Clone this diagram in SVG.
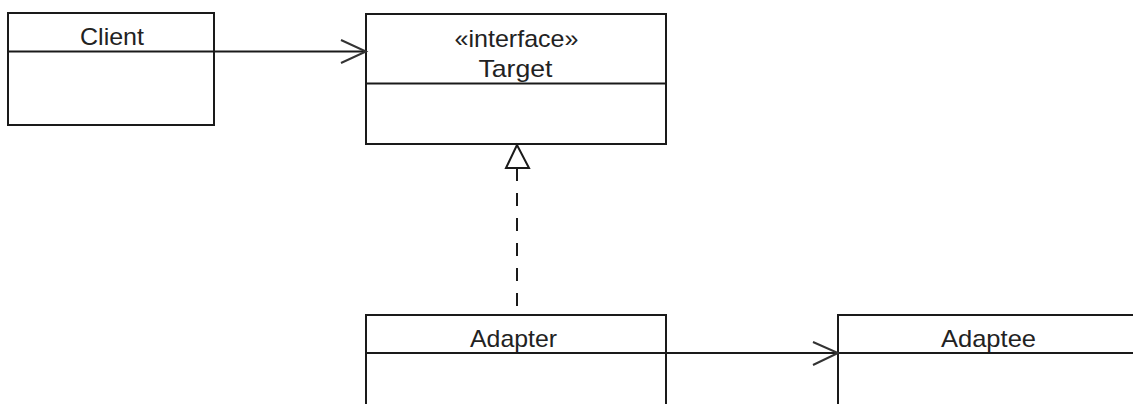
<svg xmlns="http://www.w3.org/2000/svg" width="1133" height="404" viewBox="0 0 1133 404">
<style>
.box{fill:#fff;stroke:#1a1a1a;stroke-width:2}
.div{stroke:#1a1a1a;stroke-width:2}
.lbl{font-family:"Liberation Sans",Arial,sans-serif;font-size:24px;fill:#222;text-anchor:middle}
.con{stroke:#1a1a1a;stroke-width:2;fill:none}
.open{stroke:#333;stroke-width:2;fill:none}
</style>
<rect width="1133" height="404" fill="#fff"/>
<g id="client">
<rect class="box" x="8" y="13" width="206" height="112"/>
<line class="div" x1="8" y1="51.5" x2="214" y2="51.5"/>
<text class="lbl" x="112" y="44.5" textLength="64" lengthAdjust="spacingAndGlyphs">Client</text>
</g>
<g id="target">
<rect class="box" x="366" y="14" width="300" height="130"/>
<line class="div" x1="366" y1="83.5" x2="666" y2="83.5"/>
<text class="lbl" x="516.5" y="47" textLength="124" lengthAdjust="spacingAndGlyphs">«interface»</text>
<text class="lbl" x="515.5" y="77" textLength="74" lengthAdjust="spacingAndGlyphs">Target</text>
</g>
<g id="adapter">
<rect class="box" x="366" y="315" width="300" height="100"/>
<line class="div" x1="366" y1="353" x2="666" y2="353"/>
<text class="lbl" x="513.5" y="346.5" textLength="87" lengthAdjust="spacingAndGlyphs">Adapter</text>
</g>
<g id="adaptee">
<rect class="box" x="838" y="315" width="310" height="100"/>
<line class="div" x1="838" y1="353" x2="1140" y2="353"/>
<text class="lbl" x="988.5" y="346.5" textLength="95" lengthAdjust="spacingAndGlyphs">Adaptee</text>
</g>
<g id="connectors">
<line class="con" x1="214" y1="51.5" x2="366" y2="51.5"/>
<polyline class="open" points="341,40 366,51.5 341,63"/>
<line class="con" x1="666" y1="353" x2="838" y2="353"/>
<polyline class="open" points="813,342 838,353 813,365"/>
<line class="con" x1="517" y1="168" x2="517" y2="315" stroke-dasharray="13 12"/>
<polygon points="517,145 506,168 529,168" fill="#fff" stroke="#1a1a1a" stroke-width="2"/>
</g>
</svg>
